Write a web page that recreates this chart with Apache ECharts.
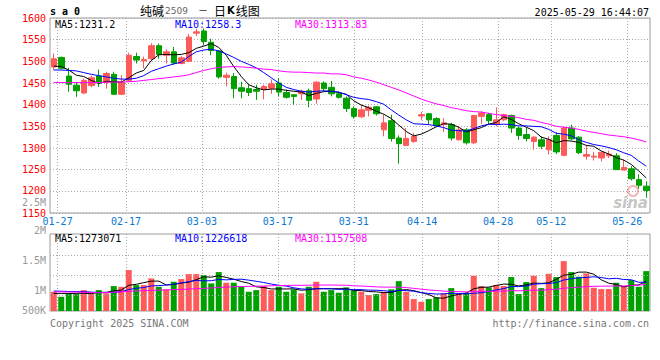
<!DOCTYPE html>
<html><head><meta charset="utf-8">
<script src="https://cdn.jsdelivr.net/npm/echarts/dist/echarts.min.js"></script>
<style>html,body{margin:0;padding:0;background:#fff}#c{width:660px;height:360px}</style>
</head><body><div id="c"></div>
<script>
// ---------- data ----------
const dates = ['01-24','01-27','02-05','02-06','02-07','02-10','02-11','02-12','02-13','02-14',
'02-17','02-18','02-19','02-20','02-21','02-24','02-25','02-26','02-27','02-28',
'03-03','03-04','03-05','03-06','03-07','03-10','03-11','03-12','03-13','03-14',
'03-17','03-18','03-19','03-20','03-21','03-24','03-25','03-26','03-27','03-28',
'03-31','04-01','04-02','04-03','04-07','04-08','04-09','04-10','04-11','04-14',
'04-15','04-16','04-17','04-18','04-21','04-22','04-23','04-24','04-25','04-28',
'04-29','04-30','05-06','05-07','05-08','05-09','05-12','05-13','05-14','05-15',
'05-16','05-19','05-20','05-21','05-22','05-23','05-26','05-27','05-28','05-29'];
const dateTicks = ['01-27','02-17','03-03','03-17','03-31','04-14','04-28','05-12','05-26'];

const opens = [1487,1509,1466,1445,1427,1444,1466,1451,1470,1424,
1456,1511,1501,1506,1536,1514,1522,1495,1500,1565,
1570,1544,1524,1463,1465,1439,1437,1435,1435,1438,
1450,1428,1423,1425,1432,1413,1450,1440,1425,1415,
1391,1372,1387,1395,1342,1363,1323,1306,1315,1374,
1379,1368,1354,1354,1319,1342,1312,1373,1377,1355,
1365,1375,1346,1331,1315,1319,1296,1329,1283,1346,
1325,1281,1279,1277,1282,1282,1249,1252,1227,1212];
const closes = [1506,1484,1447,1432,1456,1462,1450,1472,1424,1452,
1514,1503,1504,1536,1516,1522,1496,1508,1556,1568,
1546,1525,1464,1468,1437,1431,1428,1431,1442,1448,
1429,1417,1419,1431,1410,1452,1437,1425,1417,1391,
1373,1388,1394,1379,1358,1322,1310,1322,1327,1377,
1365,1352,1358,1323,1342,1312,1375,1381,1363,1365,
1377,1346,1329,1322,1325,1304,1319,1291,1346,1321,
1289,1285,1281,1290,1286,1250,1255,1229,1214,1202];
const lows = [1480,1481,1430,1418,1424,1440,1441,1437,1422,1422,
1452,1495,1484,1500,1506,1495,1492,1493,1498,1558,
1537,1514,1460,1442,1415,1415,1420,1411,1412,1425,
1419,1414,1400,1411,1394,1402,1431,1419,1414,1383,
1368,1369,1373,1375,1327,1315,1264,1304,1312,1365,
1354,1348,1337,1317,1317,1308,1309,1355,1355,1350,
1362,1335,1319,1315,1296,1298,1285,1286,1281,1318,
1286,1273,1271,1269,1277,1250,1249,1225,1206,1185];
const highs = [1518,1511,1485,1452,1460,1467,1481,1476,1476,1468,
1520,1520,1511,1542,1541,1528,1533,1512,1563,1575,
1576,1552,1526,1474,1473,1453,1446,1446,1446,1458,
1461,1435,1424,1435,1437,1454,1454,1455,1431,1419,
1396,1400,1398,1396,1377,1377,1329,1346,1335,1383,
1381,1371,1369,1358,1350,1346,1376,1385,1381,1394,
1379,1377,1350,1348,1327,1327,1327,1336,1350,1354,
1327,1306,1291,1290,1294,1288,1273,1258,1239,1223];

const ma5 = [1489,1488,1480,1468,1465,1456,1449,1454,1453,1452,
1462,1473,1479,1502,1515,1516,1515,1516,1520,1530,
1535,1541,1532,1514,1488,1465,1446,1439,1434,1436,
1436,1433,1431,1429,1421,1426,1430,1431,1428,1424,
1409,1399,1393,1385,1378,1368,1353,1338,1328,1332,
1340,1349,1356,1355,1348,1337,1342,1347,1355,1359,
1372,1366,1356,1348,1340,1325,1320,1312,1317,1316,
1313,1306,1304,1293,1286,1278,1272,1262,1247,1231];
const ma10 = [1480,1480,1479,1478,1474,1470,1467,1464,1461,1459,
1459,1461,1467,1477,1483,1489,1494,1498,1511,1522,
1526,1528,1524,1517,1509,1500,1493,1485,1474,1462,
1450,1440,1435,1431,1429,1431,1432,1431,1429,1423,
1417,1414,1412,1407,1401,1388,1376,1365,1356,1355,
1354,1351,1347,1341,1340,1339,1345,1351,1355,1354,
1355,1354,1351,1351,1350,1349,1343,1334,1332,1328,
1319,1313,1308,1305,1301,1296,1289,1283,1270,1258];
const ma30 = [1451,1451,1451,1451,1451,1451,1451,1452,1452,1452,
1453,1454,1456,1458,1460,1462,1464,1466,1469,1474,
1479,1483,1486,1487,1488,1487,1486,1484,1482,1481,
1478,1476,1475,1475,1474,1473,1473,1471,1471,1469,
1464,1461,1457,1452,1446,1440,1434,1427,1420,1413,
1407,1402,1398,1393,1390,1386,1384,1383,1380,1377,
1375,1373,1370,1366,1364,1359,1355,1350,1348,1346,
1343,1339,1336,1333,1330,1328,1326,1323,1319,1314];

const volumes = [985000,902000,958000,947000,1013000,947000,1013000,958000,1080000,1068000,
1345000,1096000,1096000,1207000,1068000,1025000,1151000,1196000,1279000,1279000,
1262000,1124000,1312000,1135000,1135000,1068000,985000,1013000,1080000,1013000,
1068000,985000,1025000,958000,1068000,1151000,985000,1013000,969000,1058000,
1002000,985000,930000,947000,985000,1025000,1162000,985000,864000,819000,
864000,892000,958000,1046000,952000,969000,1250000,1080000,1058000,1096000,
1080000,1229000,947000,1146000,1250000,1046000,1284000,1229000,1494000,1312000,
1234000,1290000,1052000,1030000,1030000,1135000,1085000,1179000,1068000,1328000];
const volMa5 = [958000,958000,958000,958000,961000,953000,976000,976000,1002000,1013000,
1093000,1109000,1137000,1162000,1162000,1098000,1109000,1129000,1144000,1186000,
1233000,1228000,1251000,1222000,1194000,1155000,1127000,1067000,1056000,1032000,
1032000,1032000,1034000,1010000,1021000,1037000,1037000,1035000,1037000,1035000,
1005000,1005000,989000,984000,970000,974000,1010000,1021000,1004000,971000,
939000,885000,879000,916000,942000,963000,1035000,1059000,1062000,1091000,
1113000,1109000,1082000,1100000,1130000,1124000,1135000,1191000,1261000,1273000,
1311000,1312000,1276000,1184000,1127000,1107000,1066000,1092000,1099000,1159000];
const volMa10 = [997000,994000,990000,988000,986000,980000,972000,970000,975000,987000,
1023000,1043000,1056000,1082000,1088000,1096000,1109000,1133000,1153000,1174000,
1166000,1169000,1190000,1183000,1190000,1194000,1178000,1159000,1139000,1113000,
1093000,1079000,1051000,1033000,1026000,1035000,1035000,1035000,1024000,1028000,
1021000,1021000,1012000,1011000,1003000,990000,1008000,1005000,994000,970000,
957000,947000,950000,960000,957000,951000,960000,969000,989000,1017000,
1038000,1072000,1071000,1081000,1111000,1118000,1122000,1137000,1180000,1202000,
1217000,1223000,1234000,1222000,1200000,1209000,1189000,1184000,1142000,1143000];
const volMa30 = [986000,984000,982000,980000,976000,972000,969000,972000,978000,985000,
992000,998000,1003000,1008000,1012000,1016000,1020000,1024000,1030000,1036000,
1041000,1049000,1057000,1062000,1068000,1072000,1076000,1078000,1080000,1085000,
1088000,1090000,1092000,1092000,1094000,1098000,1097000,1098000,1095000,1094000,
1084000,1080000,1074000,1066000,1063000,1062000,1062000,1055000,1042000,1028000,
1015000,1007000,996000,992000,986000,983000,992000,994000,993000,996000,
996000,1004000,1001000,1007000,1013000,1010000,1020000,1027000,1044000,1053000,
1061000,1071000,1075000,1078000,1079000,1083000,1080000,1087000,1093000,1110000];

const priceTicks = {min:1150, max:1600, step:50};
const volTicks = {min:500000, max:2500000, step:500000};
const volTickLabels = ['500K','1M','1.5M','2M','2.5M'];

// ---------- style / layout ----------
const MONO = "'DejaVu Sans Mono', 'Liberation Mono', monospace";
const RED = '#ff5a5a', GREEN = '#00a000';
const GRIDC = '#aaaaaa', FRAMEC = '#9a9a9a';
const dotted = {color: GRIDC, type: [1, 2], width: 1};
// volume label axis spans y 200.5 .. 321 ; bar panel spans 234 .. 311
const VL_TOP = 200.5, VL_H = 120.5, VP_TOP = 234, VP_H = 77;
const perPx = (volTicks.max - volTicks.min) / VL_H;
const VOL_MAX = volTicks.max - (VP_TOP - VL_TOP) * perPx;
const VOL_MIN = volTicks.max - (VP_TOP + VP_H - VL_TOP) * perPx;
// helper pixel-unit axis of the volume panel (0 = panel bottom) for its dotted guide lines
const volGuideRows = [16, 36, 56];

const isTick = (i, v) => dateTicks.indexOf(v) >= 0;
const candles = dates.map((d, i) => [opens[i], closes[i], lows[i], highs[i]]);

const chart = echarts.init(document.getElementById('c'), null, {renderer: 'svg', width: 660, height: 360});
const line = (name, data, color, xi, yi) => ({name, type: 'line', data, xAxisIndex: xi, yAxisIndex: yi,
  showSymbol: false, symbol: 'none', silent: true, lineStyle: {color, width: 1}, z: 5});

chart.setOption({
  animation: false,
  backgroundColor: '#ffffff',
  textStyle: {fontFamily: MONO},
  grid: [
    {left: 50, top: 18, width: 600, height: 195, show: true, borderColor: FRAMEC, borderWidth: 1},
    {left: 50, top: VP_TOP, width: 600, height: VP_H, show: true, borderColor: FRAMEC, borderWidth: 1},
    {left: 50, top: VL_TOP, width: 600, height: VL_H, show: false}
  ],
  xAxis: [
    {type: 'category', gridIndex: 0, data: dates, boundaryGap: true, show: false},
    {type: 'category', gridIndex: 0, data: dates, boundaryGap: false, position: 'bottom',
      axisLine: {show: false}, axisTick: {show: false},
      axisLabel: {interval: isTick, color: '#0a78d2', fontFamily: MONO, fontSize: 10, margin: 4, lineHeight: 9},
      splitLine: {show: true, interval: isTick, lineStyle: dotted}},
    {type: 'category', gridIndex: 1, data: dates, boundaryGap: true, show: false},
    {type: 'category', gridIndex: 1, data: dates, boundaryGap: false,
      axisLine: {show: false}, axisTick: {show: false}, axisLabel: {show: false},
      splitLine: {show: true, interval: isTick, lineStyle: dotted}},
    {type: 'category', gridIndex: 2, data: dates, show: false}
  ],
  yAxis: [
    {type: 'value', gridIndex: 0, min: priceTicks.min, max: priceTicks.max, interval: priceTicks.step,
      axisLine: {show: false}, axisTick: {show: false},
      axisLabel: {color: '#ff0000', fontFamily: MONO, fontSize: 10, margin: 4, lineHeight: 8,
        formatter: v => v === 1200 ? '{lift|' + v + '}' : String(v),
        rich: {lift: {color: '#ff0000', fontFamily: MONO, fontSize: 10, lineHeight: 8, padding: [0, 0, 2, 0]}}},
      splitLine: {show: true, lineStyle: dotted}},
    {type: 'value', gridIndex: 1, min: VOL_MIN, max: VOL_MAX, startValue: VOL_MIN, show: false, splitLine: {show: false}},
    {type: 'value', gridIndex: 1, min: 0, max: VP_H, show: false, splitLine: {show: false}},
    {type: 'value', gridIndex: 2, min: volTicks.min, max: volTicks.max, interval: volTicks.step,
      axisLine: {show: false}, axisTick: {show: false}, splitLine: {show: false},
      axisLabel: {color: '#999999', fontFamily: MONO, fontSize: 10, margin: 4, lineHeight: 8,
        formatter: v => {
          const k = Math.round((v - volTicks.min) / volTicks.step);
          if (k === 0) return '{up|' + volTickLabels[k] + '}';
          if (k === volTickLabels.length - 1) return '{down|' + volTickLabels[k] + '}';
          return volTickLabels[k];
        },
        rich: {up: {color: '#999999', fontFamily: MONO, fontSize: 10, lineHeight: 8, padding: [0, 0, 21, 0]},
               down: {color: '#999999', fontFamily: MONO, fontSize: 10, lineHeight: 8, padding: [4, 0, 0, 0]}}}}
  ],
  series: [
    {type: 'line', name: 'guides', data: dates.map(() => null), xAxisIndex: 3, yAxisIndex: 2, silent: true,
      showSymbol: false, lineStyle: {width: 0}, z: 1,
      markLine: {silent: true, symbol: 'none', label: {show: false}, animation: false, lineStyle: dotted,
        data: volGuideRows.map(r => ({yAxis: r}))}},
    {type: 'candlestick', name: 'K', data: candles, xAxisIndex: 0, yAxisIndex: 0, barWidth: 6, silent: true,
      itemStyle: {color: RED, color0: GREEN, borderColor: RED, borderColor0: GREEN, borderWidth: 1}},
    line('MA5', ma5, '#000000', 0, 0),
    line('MA10', ma10, '#0000ff', 0, 0),
    line('MA30', ma30, '#ff00ff', 0, 0),
    {type: 'bar', name: 'VOL', data: volumes, xAxisIndex: 2, yAxisIndex: 1, barWidth: 6, silent: true, clip: true, z: 2,
      itemStyle: {color: p => closes[p.dataIndex] >= opens[p.dataIndex] ? RED : GREEN}},
    line('VMA5', volMa5, '#000000', 2, 1),
    line('VMA10', volMa10, '#0000ff', 2, 1),
    line('VMA30', volMa30, '#ff00ff', 2, 1)
  ],
  graphic: [
    {type: 'text', x: 50, y: 11, style: {text: 's a 0', font: "bold 10px " + MONO, fill: '#000', verticalAlign: 'middle'}},
    {type: 'text', x: 140, y: 10.5, style: {
      text: '{c|纯碱}{n|2509}{d|—}{c|日}{k|K}{c|线图}', verticalAlign: 'middle',
      rich: {c: {fontFamily: "'Noto Sans CJK SC'", fontSize: 12, fill: '#000'},
             n: {fontFamily: "'DejaVu Sans'", fontSize: 9, fill: '#666', padding: [0, 0, 0, 1]},
             d: {fontFamily: "'DejaVu Sans'", fontSize: 8, fill: '#000', padding: [0, 7, 0, 11]},
             k: {fontFamily: "'DejaVu Sans'", fontSize: 10, fontWeight: 'bold', fill: '#000', padding: [0, 1, 0, 1]}}}},
    {type: 'text', x: 649, y: 12, style: {text: '2025-05-29 16:44:07', font: "10px " + MONO, fill: '#000', align: 'right', verticalAlign: 'middle'}},
    {type: 'text', x: 55, y: 24, style: {text: 'MA5:1231.2', font: "10px " + MONO, fill: '#000', verticalAlign: 'middle'}},
    {type: 'text', x: 175, y: 24, style: {text: 'MA10:1258.3', font: "10px " + MONO, fill: '#0000ff', verticalAlign: 'middle'}},
    {type: 'text', x: 295, y: 24, style: {text: 'MA30:1313.83', font: "10px " + MONO, fill: '#ff00ff', verticalAlign: 'middle'}},
    {type: 'text', x: 55, y: 238, style: {text: 'MA5:1273071', font: "10px " + MONO, fill: '#000', verticalAlign: 'middle'}},
    {type: 'text', x: 175, y: 238, style: {text: 'MA10:1226618', font: "10px " + MONO, fill: '#0000ff', verticalAlign: 'middle'}},
    {type: 'text', x: 295, y: 238, style: {text: 'MA30:1157508', font: "10px " + MONO, fill: '#ff00ff', verticalAlign: 'middle'}},
    {type: 'text', x: 50, y: 323.5, style: {text: 'Copyright 2025 SINA.COM', font: "10px " + MONO, fill: '#777', verticalAlign: 'middle'}},
    {type: 'text', x: 649, y: 323.5, style: {text: 'http://finance.sina.com.cn', font: "10px " + MONO, fill: '#777', align: 'right', verticalAlign: 'middle'}},
    {type: 'circle', shape: {cx: 633, cy: 191, r: 5}, style: {fill: 'none', stroke: 'rgba(235,120,120,0.55)', lineWidth: 2}, z: 1},
    {type: 'text', x: 648, y: 203, style: {text: 'sina', font: "italic bold 15px 'DejaVu Sans'", fill: 'rgba(160,160,160,0.6)', align: 'right', verticalAlign: 'middle'}, z: 1}
  ]
});
</script></body></html>
